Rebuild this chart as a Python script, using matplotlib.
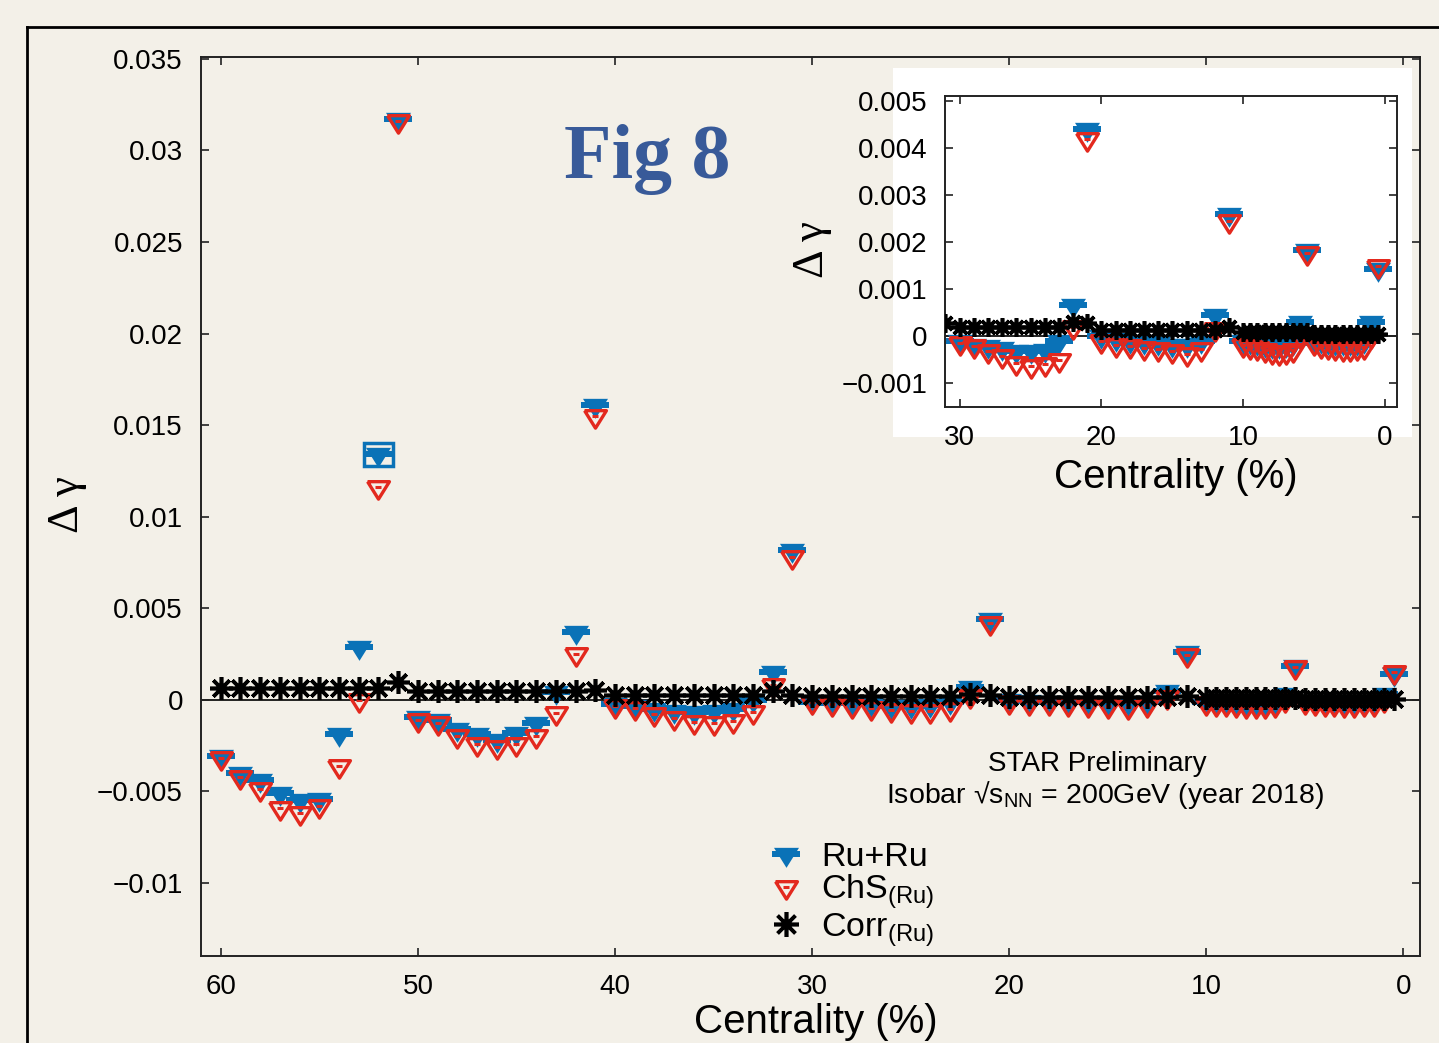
import matplotlib
matplotlib.use("Agg")
import matplotlib.pyplot as plt
from matplotlib.lines import Line2D

plt.rcParams['font.family'] = ['Liberation Sans', 'DejaVu Sans']
plt.rcParams['mathtext.fontset'] = 'custom'
plt.rcParams['mathtext.rm'] = 'Liberation Sans'
plt.rcParams['mathtext.it'] = 'Liberation Sans:italic'

# centrality (%) of every point, grouped in blocks
cent_A = [60, 59, 58, 57, 56, 55, 54, 53, 52, 51]
cent_B = [50, 49, 48, 47, 46, 45, 44, 43, 42, 41]
cent_C = [40, 39, 38, 37, 36, 35, 34, 33, 32, 31]
cent_D = [30, 29, 28, 27, 26, 25, 24, 23, 22, 21]
cent_E = [20, 19, 18, 17, 16, 15, 14, 13, 12, 11]
cent_F = [10, 9.5, 9, 8.5, 8, 7.5, 7, 6.5, 6, 5.5]
cent_G = [5, 4.5, 4, 3.5, 3, 2.5, 2, 1.5, 1, 0.5]

# Ru+Ru
ru_A = [-0.0031, -0.0040, -0.0044, -0.0051, -0.0055, -0.0054, -0.0019, 0.0029, 0.0134, 0.0317]
ru_B = [-0.00095, -0.0011, -0.0016, -0.0019, -0.0022, -0.0018, -0.0013, 0.0004, 0.0037, 0.0161]
ru_C = [-0.00023, -0.00035, -0.0005, -0.00063, -0.00066, -0.00063, -0.0005, 0.0, 0.0015, 0.0082]
ru_D = [-0.0001, -0.00018, -0.0002, -0.00026, -0.00032, -0.00032, -0.0003, -0.0001, 0.00067, 0.0044]
ru_E = [0.0, -0.00005, -0.0001, -0.00012, -0.00015, -0.00018, -0.00018, -0.0001, 0.00045, 0.0026]
ru_F = [-0.0001, -0.00012, -0.00015, -0.00018, -0.0002, -0.0002, -0.00018, -0.00015, 0.0003, 0.00183]
ru_G = [-0.00008, -0.0001, -0.00012, -0.00014, -0.00015, -0.00015, -0.00014, -0.0001, 0.0003, 0.00143]

# ChS(Ru)
chs_A = [-0.0032, -0.0042, -0.0049, -0.0059, -0.0062, -0.0058, -0.0036, 0.0, 0.0116, 0.0316]
chs_B = [-0.0011, -0.0013, -0.0020, -0.0024, -0.0026, -0.0024, -0.0020, -0.0007, 0.0025, 0.0155]
chs_C = [-0.00036, -0.00045, -0.0008, -0.0010, -0.0012, -0.00127, -0.00114, -0.00067, 0.0008, 0.0078]
chs_D = [-0.00014, -0.00021, -0.00032, -0.00043, -0.00057, -0.00064, -0.0006, -0.0005, 0.0002, 0.0042]
chs_E = [-0.0001, -0.00018, -0.0002, -0.00025, -0.00028, -0.00032, -0.00039, -0.00028, 0.00015, 0.00245]
chs_F = [-0.00018, -0.00022, -0.00026, -0.0003, -0.00033, -0.00035, -0.00033, -0.0003, 0.0, 0.00177]
chs_G = [-0.00015, -0.0002, -0.00024, -0.00026, -0.00028, -0.00028, -0.00026, -0.00022, 0.0, 0.0015]

# Corr(Ru)
corr_A = [0.00065, 0.00065, 0.00065, 0.00065, 0.00065, 0.00065, 0.00065, 0.00065, 0.00065, 0.00095]
corr_B = [0.00046, 0.00046, 0.00046, 0.00046, 0.00046, 0.00046, 0.00046, 0.00046, 0.00046, 0.00052]
corr_C = [0.00028, 0.00028, 0.00028, 0.00028, 0.00028, 0.00028, 0.00028, 0.00028, 0.00046, 0.00028]
corr_D = [0.0002, 0.0002, 0.0002, 0.0002, 0.0002, 0.0002, 0.0002, 0.0002, 0.0003, 0.00028]
corr_E = [0.00013, 0.00013, 0.00013, 0.00013, 0.00013, 0.00013, 0.00013, 0.00013, 0.00013, 0.0002]
corr_F = [0.00008, 0.00008, 0.00008, 0.00008, 0.00008, 0.00008, 0.00008, 0.00008, 0.00008, 0.00008]
corr_G = [0.00005, 0.00005, 0.00005, 0.00005, 0.00005, 0.00005, 0.00005, 0.00005, 0.00005, 0.00005]

# the one large Ru+Ru error box
box_x = [52]
box_y = [0.0134]
box_err = [0.00064]

cent = cent_A + cent_B + cent_C + cent_D + cent_E + cent_F + cent_G
ru = ru_A + ru_B + ru_C + ru_D + ru_E + ru_F + ru_G
chs = chs_A + chs_B + chs_C + chs_D + chs_E + chs_F + chs_G
corr = corr_A + corr_B + corr_C + corr_D + corr_E + corr_F + corr_G

main_yticks = [0.035, 0.03, 0.025, 0.02, 0.015, 0.01, 0.005, 0, -0.005, -0.01]
main_ylabels = ['0.035', '0.03', '0.025', '0.02', '0.015', '0.01', '0.005', '0', '\u22120.005', '\u22120.01']
main_xticks = [60, 50, 40, 30, 20, 10, 0]
ins_yticks = [0.005, 0.004, 0.003, 0.002, 0.001, 0, -0.001]
ins_ylabels = ['0.005', '0.004', '0.003', '0.002', '0.001', '0', '\u22120.001']
ins_xticks = [30, 20, 10, 0]

BG = '#f3f0e8'
BLUE = '#0a72b7'
RED = '#e3291e'

tri = [(-1, 0.533), (1, 0.533), (0, -1.067), (-1, 0.533)]
bar = [(-1, -0.25), (1, -0.25), (1, 0.25), (-1, 0.25), (-1, -0.25)]


def draw_points(ax, star_ms):
    ax.axhline(0, color='black', lw=1.2, zorder=1)
    ax.plot(cent, ru, ls='none', marker=bar, ms=20, color=BLUE, mew=0, zorder=3)
    ax.plot(cent, ru, ls='none', marker=tri, ms=19.2, color=BLUE, mew=0, zorder=3)
    ax.plot(cent, chs, ls='none', marker=tri, ms=16.8, mfc='none', mec=RED, mew=2.4, zorder=4)
    ax.plot(cent, chs, ls='none', marker='_', ms=4.5, mec=RED, mew=2.2, zorder=4)
    ax.plot(cent, corr, ls='none', marker=(8, 2, 0), ms=star_ms, mec='black', mew=2.6, zorder=5)


def style_axes(ax):
    ax.set_facecolor('none')
    ax.tick_params(direction='in', length=5.5, width=1.2, top=True, right=True,
                   labelsize=20, pad=13, colors='#222222', labelcolor='black')
    for s in ax.spines.values():
        s.set_linewidth(1.4)
        s.set_color('#222222')


fig = plt.figure(figsize=(14.39, 10.43), dpi=100, facecolor=BG)

ax = fig.add_axes([0.1397, 0.0834, 0.8474, 0.8619])
style_axes(ax)
draw_points(ax, 16.5)
ax.bar(box_x, [2 * e for e in box_err], bottom=[y - e for y, e in zip(box_y, box_err)],
       width=1.44, fill=False, edgecolor=BLUE, lw=2.5, zorder=3)
ax.set_xlim(61, -0.86)
ax.set_ylim(-0.0140, 0.0351)
ax.set_xticks(main_xticks)
ax.set_yticks(main_yticks)
ax.set_yticklabels(main_ylabels)
ax.set_xlabel('Centrality (%)', fontsize=29)
ax.xaxis.set_label_coords(0.504, -0.052)
ax.set_ylabel('\u0394 \u03b3', fontsize=32, family=['Liberation Serif', 'DejaVu Serif'])
ax.yaxis.set_label_coords(-0.11, 0.502)
ax.yaxis.label.set_va('center')

ax.text(0.7347, 0.2135, 'STAR Preliminary', transform=ax.transAxes, fontsize=20,
        ha='center', va='center')
ax.text(0.7409, 0.1795, 'Isobar \u221as$_{\\rm NN}$ = 200GeV (year 2018)', transform=ax.transAxes,
        fontsize=20.5, ha='center', va='center')

h_ru = (Line2D([], [], ls='none', marker=bar, ms=20, color=BLUE, mew=0),
        Line2D([], [], ls='none', marker=tri, ms=19.2, color=BLUE, mew=0))
h_chs = (Line2D([], [], ls='none', marker=tri, ms=16.8, mfc='none', mec=RED, mew=2.4),
         Line2D([], [], ls='none', marker='_', ms=4.5, mec=RED, mew=2.2))
h_corr = Line2D([], [], ls='none', marker=(8, 2, 0), ms=18, mec='black', mew=2.6)
ax.legend([h_ru, h_chs, h_corr], ['Ru+Ru', 'ChS$_{\\rm (Ru)}$', 'Corr$_{\\rm (Ru)}$'],
          loc='upper left', bbox_to_anchor=(0.5347, 0.193), bbox_transform=fig.transFigure,
          frameon=False, fontsize=24.5, handlelength=0.97, handletextpad=0.55,
          labelspacing=0.0, borderpad=0, borderaxespad=0)

fig.text(0.4496, 0.8293, 'Fig 8', fontsize=56, fontweight='bold', color='#385a99',
         ha='center', va='baseline', family=['Liberation Serif', 'DejaVu Serif'])

# white panel behind the inset
bg = fig.add_axes([0.6206, 0.581, 0.3607, 0.3538])
bg.set_facecolor('white')
bg.set_xticks([])
bg.set_yticks([])
for s in bg.spines.values():
    s.set_visible(False)

ins = fig.add_axes([0.657, 0.6101, 0.3141, 0.2974])
style_axes(ins)
draw_points(ins, 13.5)
ins.set_xlim(31, -0.87)
ins.set_ylim(-0.0015, 0.0051)
ins.set_xticks(ins_xticks)
ins.set_yticks(ins_yticks)
ins.set_yticklabels(ins_ylabels)
ins.set_xlabel('Centrality (%)', fontsize=29)
ins.xaxis.set_label_coords(0.51, -0.165)
ins.set_ylabel('\u0394 \u03b3', fontsize=32, family=['Liberation Serif', 'DejaVu Serif'])
ins.yaxis.set_label_coords(-0.295, 0.505)
ins.yaxis.label.set_va('center')

# outer slide frame
fx = 27 / 1439
fy = 1 - 27 / 1043
fig.add_artist(Line2D([fx, fx], [0, fy], transform=fig.transFigure, color='black', lw=2))
fig.add_artist(Line2D([fx, 1], [fy, fy], transform=fig.transFigure, color='black', lw=2))

fig.savefig('out.png', dpi=100, facecolor=BG)
